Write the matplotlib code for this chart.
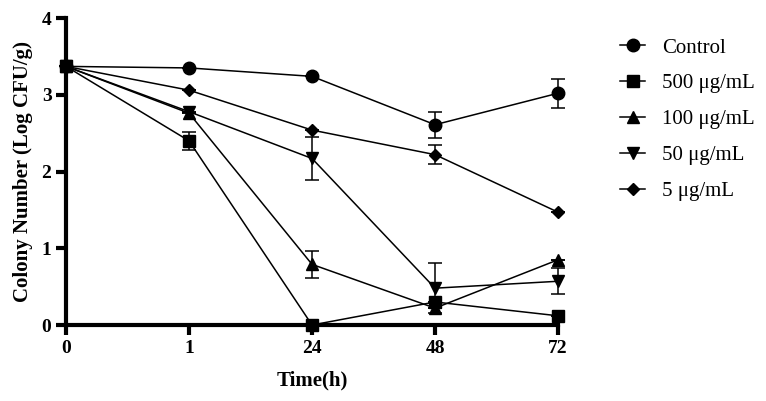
import matplotlib.pyplot as plt
import numpy as np

plt.rcParams['font.family'] = ['Liberation Serif', 'DejaVu Serif']

# categories on the x axis (equally spaced)
time_labels = ['0', '1', '24', '48', '72']

control = [3.37, 3.35, 3.24, 2.61, 3.02]
control_err = [0, 0, 0, 0.17, 0.19]
c500 = [3.37, 2.40, 0.0, 0.30, 0.12]
c500_err = [0, 0.12, 0, 0, 0]
c100 = [3.37, 2.76, 0.79, 0.22, 0.85]
c100_err = [0, 0, 0.18, 0, 0]
c50 = [3.37, 2.78, 2.17, 0.48, 0.57]
c50_err = [0, 0, 0.28, 0.33, 0.17]
c5 = [3.37, 3.06, 2.54, 2.22, 1.47]
c5_err = [0, 0, 0, 0.12, 0]

series = [
    ('Control', control, control_err, 'o'),
    ('500 μg/mL', c500, c500_err, 's'),
    ('100 μg/mL', c100, c100_err, '^'),
    ('50 μg/mL', c50, c50_err, 'v'),
    ('5 μg/mL', c5, c5_err, 'D'),
]

fig = plt.figure(figsize=(7.66, 4.01), dpi=100)
ax = fig.add_axes([0.0862, 0.1895, 0.6423, 0.7655])

x = np.arange(len(time_labels))
sizes = {'o': 9, 's': 8, '^': 9, 'v': 9, 'D': 6.5}
handles = []
for name, y, err, m in series:
    cont = ax.errorbar(x, y, yerr=err, fmt='-' + m, color='black', lw=1.1,
                       markersize=sizes[m], capsize=5, elinewidth=1.1, capthick=1.1,
                       label=name, clip_on=False, zorder=3)
    handles.append(cont[0])

ax.set_xlim(0, 4)
ax.set_ylim(0, 4)
ax.set_xticks(x)
ax.set_xticklabels(time_labels)
ax.set_yticks([0, 1, 2, 3, 4])
for s in ['top', 'right']:
    ax.spines[s].set_visible(False)
for s in ['left', 'bottom']:
    ax.spines[s].set_linewidth(3)
ax.tick_params(width=3, length=7, labelsize=14, direction='out')
for lab in ax.get_xticklabels() + ax.get_yticklabels():
    lab.set_fontweight('bold')

ax.set_xlabel('Time(h)', fontsize=15, fontweight='bold', labelpad=10)
ax.set_ylabel('Colony Number (Log CFU/g)', fontsize=15, fontweight='bold', labelpad=6)

ax.legend(handles, [s[0] for s in series], loc='upper left',
          bbox_to_anchor=(1.088, 0.996), frameon=False,
          fontsize=15, handlelength=1.2, labelspacing=0.78, handletextpad=0.8)

fig.savefig('out.png', dpi=100)
